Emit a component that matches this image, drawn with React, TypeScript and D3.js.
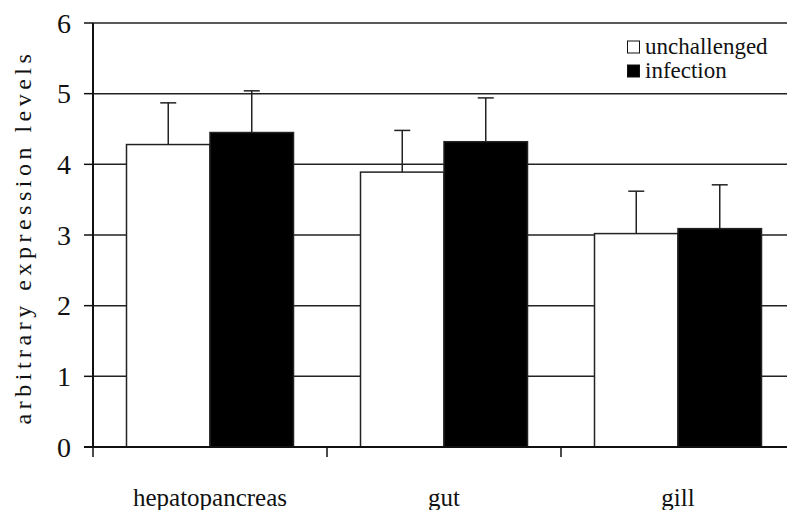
import React from 'react'
import * as d3 from 'd3'

const categories = ['hepatopancreas', 'gut', 'gill']
const seriesNames = ['unchallenged', 'infection']
const unchallenged = [4.28, 3.89, 3.02]
const unchallengedErr = [0.59, 0.59, 0.6]
const infection = [4.45, 4.32, 3.09]
const infectionErr = [0.59, 0.62, 0.62]
const yTicks = [0, 1, 2, 3, 4, 5, 6]

const font = '"Times New Roman", Times, "Liberation Serif", Tinos, "Noto Serif", "DejaVu Serif", FreeSerif, serif'
const txt = {fontFamily: font}

export default function App() {
  const width = 787,
    height = 510,
    left = 93,
    top = 23,
    bottom = 447

  const x = d3.scaleBand<string>()
    .domain(categories)
    .range([left, left + 234 * 3])
    .paddingInner(0)
    .paddingOuter(0)

  const y = d3.scaleLinear().domain([0, 6]).range([bottom, top])

  const barW = 83.5
  const series = [
    {name: seriesNames[0], vals: unchallenged, errs: unchallengedErr, fill: '#fff'},
    {name: seriesNames[1], vals: infection, errs: infectionErr, fill: '#000'},
  ]

  return (
    <svg width={width} height={height} style={{position: 'absolute', left: 0, top: 0}}>
      <rect width={width} height={height} fill="#fff" />
      {yTicks.filter(t => t > 0).map(t => (
        <line key={t} x1={left} x2={width} y1={y(t)} y2={y(t)} stroke="#222" strokeWidth={1.5} />
      ))}
      {categories.map((c, i) => {
        const cx = x(c)! + x.bandwidth() / 2
        return series.map((s, j) => {
          const bx = cx - barW + j * barW
          const ex = bx + barW / 2
          return (
            <g key={c + j}>
              <line x1={ex} x2={ex} y1={y(s.vals[i])} y2={y(s.vals[i] + s.errs[i])} stroke="#222" strokeWidth={1.5} />
              <line x1={ex - 8} x2={ex + 8} y1={y(s.vals[i] + s.errs[i])} y2={y(s.vals[i] + s.errs[i])} stroke="#222" strokeWidth={1.5} />
              <rect x={bx} y={y(s.vals[i])} width={barW} height={bottom - y(s.vals[i])}
                fill={s.fill} stroke="#222" strokeWidth={1.5} />
            </g>
          )
        })
      })}
      <line x1={left} x2={left} y1={top} y2={bottom} stroke="#111" strokeWidth={2} />
      {yTicks.map(t => (
        <g key={t}>
          <line x1={left - 9} x2={left} y1={y(t)} y2={y(t)} stroke="#111" strokeWidth={1.5} />
          <text x={71} y={y(t)} dy="0.35em" textAnchor="end" style={txt} fontSize={28} fill="#111">{t}</text>
        </g>
      ))}
      <line x1={left - 9} x2={width} y1={bottom} y2={bottom} stroke="#111" strokeWidth={2} />
      {categories.map(c => (
        <g key={c}>
          <line x1={x(c)!} x2={x(c)!} y1={bottom} y2={bottom + 10} stroke="#111" strokeWidth={1.5} />
          <text x={x(c)! + x.bandwidth() / 2} y={506} textAnchor="middle" style={txt} fontSize={25} fill="#111">{c}</text>
        </g>
      ))}
      <text transform="translate(31,237) rotate(-90)" textAnchor="middle" style={{...txt, letterSpacing: '4.5px'}} fontSize={24}
        fill="#111">arbitrary expression levels</text>
      {series.map((s, j) => (
        <g key={s.name} transform={`translate(627, ${41 + j * 24})`}>
          <rect x={0.5} y={0} width={12} height={12} fill={s.fill} stroke="#111" strokeWidth={1} />
          <text x={18} y={13} style={txt} fontSize={23} fill="#111">{s.name}</text>
        </g>
      ))}
    </svg>
  )
}
